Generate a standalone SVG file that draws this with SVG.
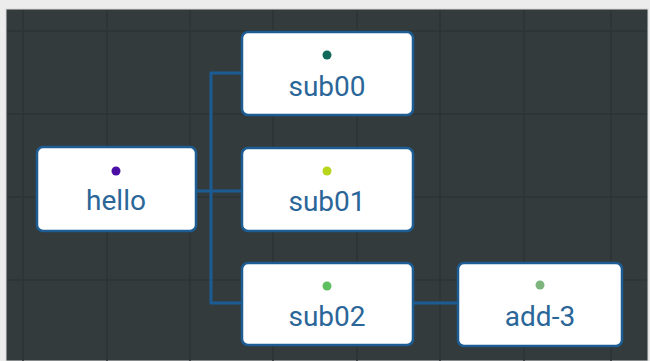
<svg xmlns="http://www.w3.org/2000/svg" width="650" height="361" viewBox="0 0 650 361">
<style>
.node rect{fill:#ffffff;stroke:#1d5d93;stroke-width:2.5}
.node text{font-family:Roboto,"Liberation Sans",sans-serif;font-size:28px;fill:#2b6699;text-anchor:middle}
.grid line{stroke:#2d3436;stroke-width:1.5}
.conn{fill:none;stroke:#1b5c94;stroke-width:3}
</style>
<rect x="0" y="0" width="650" height="361" fill="#ececec"/>
<rect x="6" y="9" width="642" height="352" fill="#343b3d" stroke="#d8d8d8" stroke-width="1"/>
<g class="grid">
<line x1="23" y1="10" x2="23" y2="361"/>
<line x1="107" y1="10" x2="107" y2="361"/>
<line x1="190" y1="10" x2="190" y2="361"/>
<line x1="273" y1="10" x2="273" y2="361"/>
<line x1="357" y1="10" x2="357" y2="361"/>
<line x1="440" y1="10" x2="440" y2="361"/>
<line x1="524" y1="10" x2="524" y2="361"/>
<line x1="611" y1="10" x2="611" y2="361"/>
<line x1="7" y1="31" x2="647" y2="31"/>
<line x1="7" y1="114" x2="647" y2="114"/>
<line x1="7" y1="197" x2="647" y2="197"/>
<line x1="7" y1="280" x2="647" y2="280"/>
</g>
<g id="connectors">
<path class="conn" d="M196 191 H211"/>
<path class="conn" d="M241 73 H211 V303 H241"/>
<path class="conn" d="M211 191 H241"/>
<path class="conn" d="M413 303 H457"/>
</g>
<g id="hello" class="node">
<rect x="37" y="147" width="159" height="84" rx="6"/>
<circle cx="116" cy="171" r="4.5" fill="#4b0fa6"/>
<text x="116" y="210">hello</text>
</g>
<g id="sub00" class="node">
<rect x="242" y="32" width="171" height="83" rx="6"/>
<circle cx="327" cy="55" r="4.5" fill="#10695b"/>
<text x="327" y="96">sub00</text>
</g>
<g id="sub01" class="node">
<rect x="242" y="148" width="171" height="83" rx="6"/>
<circle cx="327" cy="171" r="4.5" fill="#b6d51b"/>
<text x="327" y="211">sub01</text>
</g>
<g id="sub02" class="node">
<rect x="242" y="263" width="171" height="82" rx="6"/>
<circle cx="327" cy="286" r="4.5" fill="#5dbf60"/>
<text x="327" y="326">sub02</text>
</g>
<g id="add-3" class="node">
<rect x="458" y="263" width="164" height="83" rx="6"/>
<circle cx="540" cy="285" r="4.5" fill="#7db57c"/>
<text x="540" y="326">add-3</text>
</g>
</svg>
